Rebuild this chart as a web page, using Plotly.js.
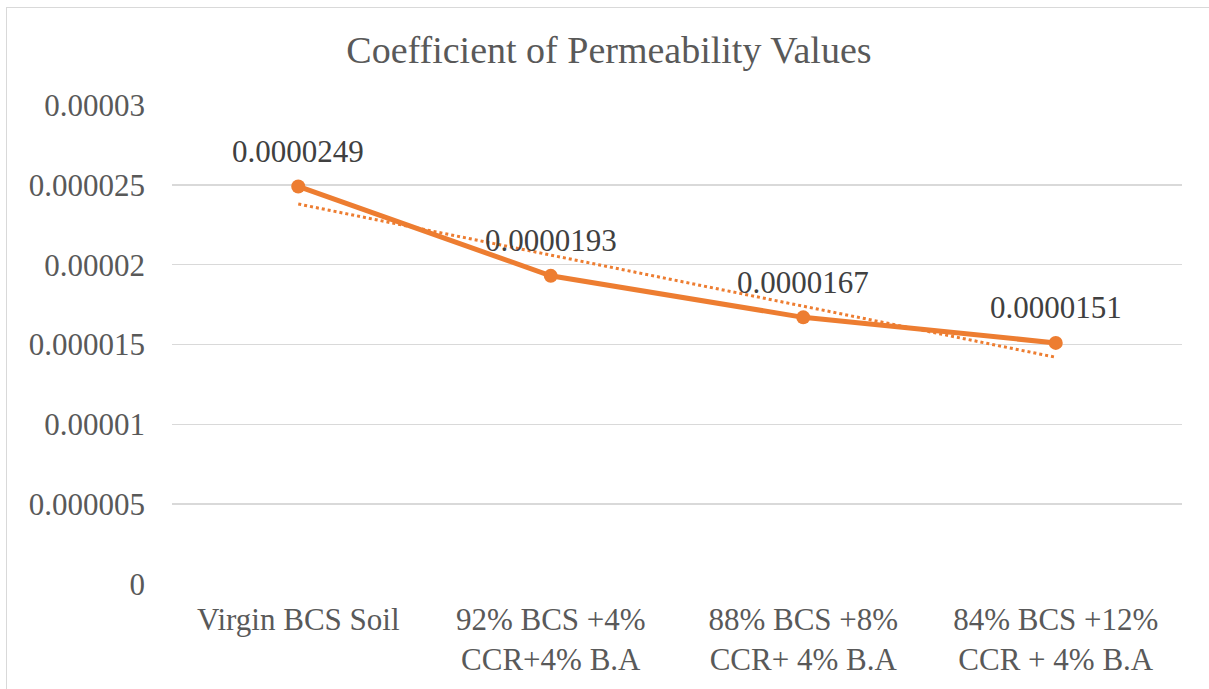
<!DOCTYPE html>
<html>
<head>
<meta charset="utf-8">
<script src="https://cdn.plot.ly/plotly-3.0.1.min.js"></script>
<style>
  html, body { margin: 0; padding: 0; background: #ffffff; overflow: hidden; }
  #frame { position: absolute; left: 6px; top: 7px; width: 1300px; height: 800px; border: 1.5px solid #d9d9d9; box-sizing: border-box; }
  #chart { position: absolute; left: 0; top: 0; width: 1209px; height: 689px; }
  #chart text { font-family: "Liberation Serif" !important; }
</style>
</head>
<body>
<div id="frame"></div>
<div id="chart"></div>
<script>
// ---- Data ----
const categories = [
  "Virgin BCS Soil",
  "92% BCS +4%<br>CCR+4% B.A",
  "88% BCS +8%<br>CCR+ 4% B.A",
  "84% BCS +12%<br>CCR + 4% B.A"
];
const permeability = [0.0000249, 0.0000193, 0.0000167, 0.0000151];
const valueLabels = ["0.0000249", "0.0000193", "0.0000167", "0.0000151"];
const yTickValues = [0, 0.000005, 0.00001, 0.000015, 0.00002, 0.000025, 0.00003];
const yTickLabels = ["0", "0.000005", "0.00001", "0.000015", "0.00002", "0.000025", "0.00003"];
const chartTitle = "Coefficient of Permeability Values";

// Linear trendline (least squares over category index), as the spreadsheet computes it
const catIndex = categories.map((_, i) => i + 1);
const count = catIndex.length;
const meanX = catIndex.reduce((a, b) => a + b, 0) / count;
const meanY = permeability.reduce((a, b) => a + b, 0) / count;
let sumXY = 0, sumXX = 0;
for (let i = 0; i < count; i++) {
  sumXY += (catIndex[i] - meanX) * (permeability[i] - meanY);
  sumXX += (catIndex[i] - meanX) ** 2;
}
const trendSlope = sumXY / sumXX;
const trendIntercept = meanY - trendSlope * meanX;
const trendY = catIndex.map(x => trendIntercept + trendSlope * x);

const orange = "#ED7D31";
const textColor = "#595959";
const serifFamily = "Liberation Serif";

const traces = [
  {
    x: categories, y: permeability, type: "scatter", mode: "lines+markers",
    line: { color: orange, width: 5 },
    marker: { color: orange, size: 14 },
    hoverinfo: "skip", showlegend: false
  },
  {
    x: categories, y: trendY, type: "scatter", mode: "lines",
    line: { color: orange, width: 3, dash: "dot" },
    hoverinfo: "skip", showlegend: false
  }
];

const annotations = categories.map((c, i) => ({
  x: c, y: permeability[i], xref: "x", yref: "y",
  text: valueLabels[i], showarrow: false,
  xanchor: "center", yanchor: "middle", yshift: 35,
  font: { family: serifFamily, size: 31, color: "#404040" }
}));

const layout = {
  width: 1209, height: 689,
  margin: { l: 172, r: 27, t: 105, b: 105 },
  paper_bgcolor: "rgba(0,0,0,0)", plot_bgcolor: "rgba(0,0,0,0)",
  font: { family: serifFamily, color: textColor, size: 31 },
  title: {
    text: chartTitle,
    font: { family: serifFamily, size: 38, color: textColor },
    xref: "container", x: 0.5037, xanchor: "center",
    yref: "container", y: 1 - 50 / 689, yanchor: "middle"
  },
  annotations: annotations,
  xaxis: {
    type: "category", range: [-0.5, 3.5], showgrid: false, zeroline: false, showline: false,
    ticks: "", tickfont: { family: serifFamily, size: 31, color: textColor },
    ticklabelstandoff: 14, fixedrange: true
  },
  yaxis: {
    range: [0, 0.00003], tickmode: "array", tickvals: yTickValues, ticktext: yTickLabels,
    showgrid: true, gridcolor: "#d9d9d9", gridwidth: 1.5, zeroline: false, showline: false,
    ticks: "", tickfont: { family: serifFamily, size: 31, color: textColor },
    ticklabelstandoff: 26, fixedrange: true
  }
};

Plotly.newPlot("chart", traces, layout, { displayModeBar: false, staticPlot: true });
</script>
</body>
</html>
